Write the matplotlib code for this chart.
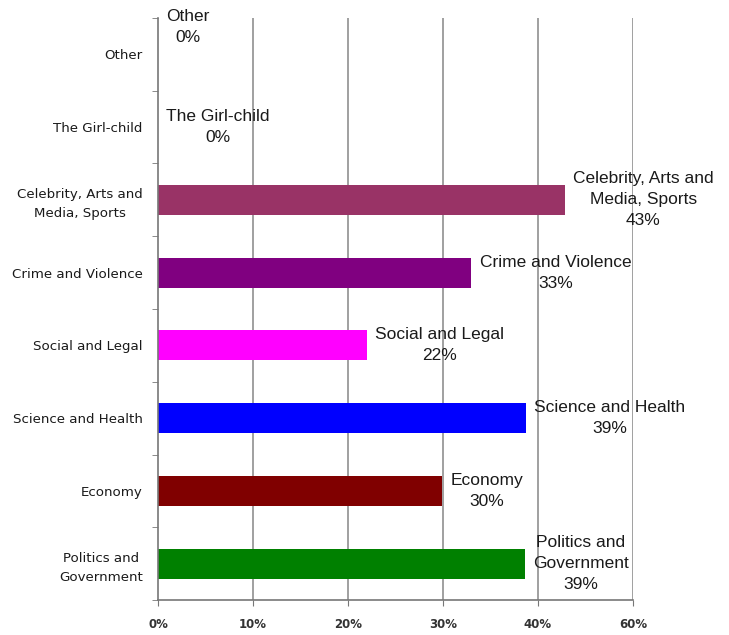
"""Horizontal bar chart of story topics by share of coverage."""

import matplotlib.pyplot as plt
import numpy as np

# Categories listed bottom to top
categories = [
    "Politics and\nGovernment",
    "Economy",
    "Science and Health",
    "Social and Legal",
    "Crime and Violence",
    "Celebrity, Arts and\nMedia, Sports",
    "The Girl-child",
    "Other",
]
shares = [38.6, 29.9, 38.7, 22.0, 33.0, 42.8, 0.0, 0.0]
bar_colors = ["#008000", "#800000", "#0000FF", "#FF00FF",
              "#800080", "#993366", "#993366", "#993366"]
x_ticks = [0, 10, 20, 30, 40, 50]
x_tick_labels = ["0%", "10%", "20%", "30%", "40%", "60%"]

plt.rcParams["font.family"] = ["Liberation Sans", "DejaVu Sans"]

fig = plt.figure(figsize=(7.29, 6.35), dpi=100)
ax = fig.add_axes([0.2167, 0.0551, 0.8683 - 0.2167, 0.9717 - 0.0551])

y = np.arange(len(categories))
ax.barh(y, shares, height=0.41, color=bar_colors, zorder=2)

ax.set_xlim(0, 50)
ax.set_ylim(-0.5, len(categories) - 0.5)

# vertical gridlines
for xv in x_ticks[1:]:
    ax.axvline(xv, color="#999999", lw=1.3, zorder=1)

# data labels: category name and rounded share
for yi, (name, val) in enumerate(zip(categories, shares)):
    dy = 20 if name == "Other" else 0
    ax.annotate(f"{name}\n{val:.0f}%", xy=(val, yi), xytext=(6, dy),
                textcoords="offset points", ha="left", va="center",
                multialignment="center", fontsize=12.5, linespacing=1.5,
                color="#1a1a1a", zorder=3)

# y axis: labels at category centres, small ticks between categories
ax.set_yticks(y)
ax.set_yticklabels(categories, fontsize=9.6, multialignment="center",
                   color="#1a1a1a", family="DejaVu Sans", linespacing=1.6)
ax.tick_params(axis="y", which="major", length=0, pad=11)
ax.set_yticks(np.arange(-0.5, len(categories)), minor=True)
ax.tick_params(axis="y", which="minor", length=4, color="#777777", direction="out")

ax.set_xticks(x_ticks)
ax.set_xticklabels(x_tick_labels, fontsize=8.5, fontweight="bold",
                   color="#333333", family="DejaVu Sans")
ax.tick_params(axis="x", length=4, color="#777777", pad=9)

for side in ("top", "right"):
    ax.spines[side].set_visible(False)
for side in ("left", "bottom"):
    ax.spines[side].set_color("#777777")
    ax.spines[side].set_linewidth(1.2)

fig.savefig("out.png", dpi=100, facecolor="white")
